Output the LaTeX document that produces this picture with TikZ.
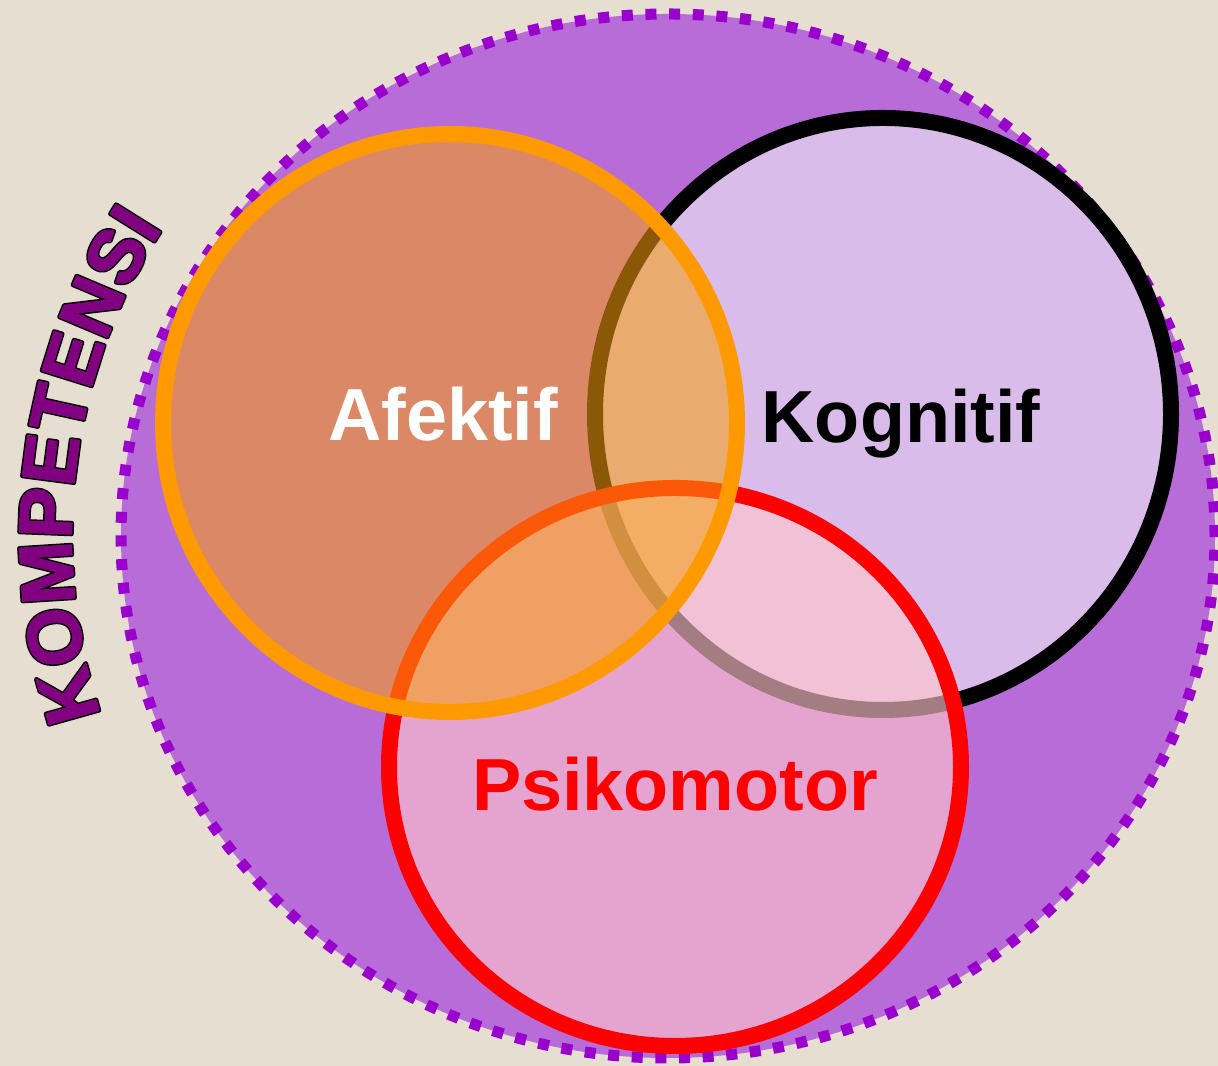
\documentclass[tikz,border=0pt]{standalone}
\usepackage{fontspec}
\setmainfont{Liberation Sans}
\newfontfamily\kompfont{Liberation Sans}[BoldFeatures={FakeBold=2}]
\newfontfamily\kompoutline{Liberation Sans}[BoldFeatures={FakeBold=6}]
\usetikzlibrary{decorations.text}
\definecolor{bgbeige}{RGB}{230,222,209}
\definecolor{bigpurple}{RGB}{184,108,216}
\definecolor{dashpurple}{RGB}{153,0,204}
\definecolor{kogfill}{RGB}{217,188,234}
\definecolor{psifill}{RGB}{255,196,203}
\definecolor{afefill}{RGB}{248,158,14}
\definecolor{afering}{RGB}{255,153,0}
\definecolor{komptext}{RGB}{128,0,128}
\newcommand\kompstyle{\kompfont\bfseries\fontsize{21.5pt}{26pt}\selectfont}
\newcommand\kompline{\kompoutline\bfseries\fontsize{21.5pt}{26pt}\selectfont}
\begin{document}
\begin{tikzpicture}[
  ring/.style={line width=0.16cm},
  vlabel/.style={font=\bfseries\fontsize{21pt}{25pt}\selectfont, inner sep=0pt, anchor=base},
  kompback/.style={miter limit=1, line join=round, decorate, decoration={text along path, text align={fit to path}, text={|\kompline|KOMPETENSI}, text color=black}},
  kompfront/.style={miter limit=1, line join=round, decorate, decoration={text along path, text align={fit to path}, text={|\kompstyle|KOMPETENSI}, text color=komptext}},
]
\fill[bgbeige] (0,0) rectangle (12.18,10.66);
\useasboundingbox (0,0) rectangle (12.18,10.66);
% outer competence circle
\fill[bigpurple] (6.68,5.30) ellipse [x radius=5.47cm, y radius=5.22cm];
\draw[dashpurple, line width=0.11cm, dash pattern=on 0.11cm off 0.1265cm] (6.68,5.30) ellipse [x radius=5.47cm, y radius=5.22cm];
% three domains
\draw[ring, draw=black, fill=kogfill] (8.83,6.52) ellipse [x radius=2.88cm, y radius=2.96cm];
\draw[ring, draw=red, fill=psifill, fill opacity=0.64] (6.75,2.99) ellipse [x radius=2.86cm, y radius=2.79cm];
\draw[ring, draw=afering, fill=afefill, fill opacity=0.56] (4.50,6.43) ellipse [x radius=2.87cm, y radius=2.89cm];
% labels
\node[vlabel, text=white] (afektif) at (4.43,6.25) {Afektif};
\node[vlabel, text=black] (kognitif) at (9.01,6.23) {Kognitif};
\node[vlabel, text=red] (psikomotor) at (6.75,2.55) {Psikomotor};
% curved title with outline
\coordinate (kstart) at (1.01,3.51);
\begin{scope}
\pgfsetmiterlimit{1}
\pgfsetroundjoin
\path[kompback] (kstart) arc[start angle=198.5, end angle=147, radius=5.65cm];
\path[kompfront] (kstart) arc[start angle=198.5, end angle=147, radius=5.65cm];
\end{scope}
\end{tikzpicture}
\end{document}
